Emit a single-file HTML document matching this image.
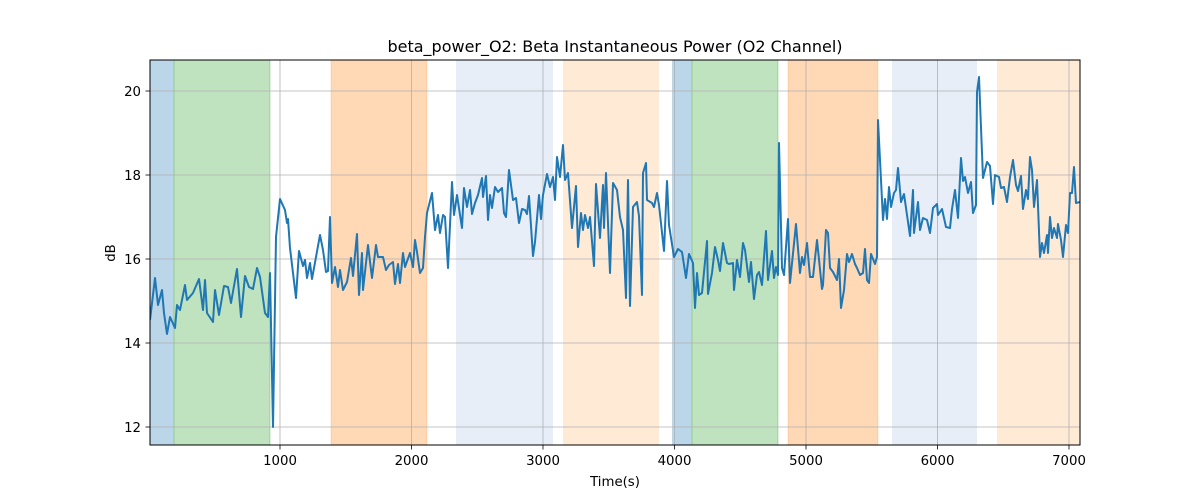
<!DOCTYPE html>
<html><head><meta charset="utf-8"><style>
html,body{margin:0;padding:0;background:#fff;}
svg{display:block;font-family:"DejaVu Sans","Liberation Sans",sans-serif;}
</style></head><body>
<svg width="1200" height="500" viewBox="0 0 1200 500" xmlns="http://www.w3.org/2000/svg">
<rect width="1200" height="500" fill="#fff"/>
<defs><clipPath id="c"><rect x="150" y="60" width="930" height="385"/></clipPath></defs>
<g clip-path="url(#c)">
<rect x="150" y="60" width="24" height="385" fill="#1f77b4" fill-opacity="0.3"/>
<rect x="174" y="60" width="96" height="385" fill="#2ca02c" fill-opacity="0.3" stroke="#2ca02c" stroke-opacity="0.3"/>
<rect x="331" y="60" width="96" height="385" fill="#ff7f0e" fill-opacity="0.3" stroke="#ff7f0e" stroke-opacity="0.2"/>
<rect x="456" y="60" width="97" height="385" fill="#aec7e8" fill-opacity="0.3"/>
<rect x="563" y="60" width="96" height="385" fill="#ffbb78" fill-opacity="0.3"/>
<rect x="672" y="60" width="20" height="385" fill="#1f77b4" fill-opacity="0.3"/>
<rect x="692" y="60" width="86" height="385" fill="#2ca02c" fill-opacity="0.3" stroke="#2ca02c" stroke-opacity="0.3"/>
<rect x="788" y="60" width="90" height="385" fill="#ff7f0e" fill-opacity="0.3" stroke="#ff7f0e" stroke-opacity="0.2"/>
<rect x="892" y="60" width="85" height="385" fill="#aec7e8" fill-opacity="0.3"/>
<rect x="997" y="60" width="85" height="385" fill="#ffbb78" fill-opacity="0.3"/>
<g stroke="#b0b0b0" stroke-width="0.8">
<line x1="280" y1="60" x2="280" y2="445"/><line x1="411.5" y1="60" x2="411.5" y2="445"/><line x1="543" y1="60" x2="543" y2="445"/><line x1="674.5" y1="60" x2="674.5" y2="445"/><line x1="806" y1="60" x2="806" y2="445"/><line x1="937.5" y1="60" x2="937.5" y2="445"/><line x1="1069" y1="60" x2="1069" y2="445"/>
<line x1="150" y1="427" x2="1080" y2="427"/><line x1="150" y1="343" x2="1080" y2="343"/><line x1="150" y1="259" x2="1080" y2="259"/><line x1="150" y1="175" x2="1080" y2="175"/><line x1="150" y1="91" x2="1080" y2="91"/>
</g>
<polyline fill="none" stroke="#1f77b4" stroke-width="2" stroke-linejoin="round" points="
150,320 155,278 158,305 162,290 164,313 167,334 170,317 175,328 177,305 180,310 185,285 187,300 193,293 199,279 203,310 205,280 207,313 213,322 215,290 219,315 224,286 228,287 231,303 237,269 241,317 245,276 249,287 253,289 257,268 260,277 265,313 268,317 270,273 273,427 276,237 280,199 285,210 287,223 288,219 290,248 296,298 299,251 303,266 305,260 307,278 310,263 312,279 320,235 323,250 326,272 328,271 330,217 332,283 335,267 338,287 340,270 343,290 347,282 351,258 353,276 357,234 359,295 362,253 363,290 368,245 372,278 376,245 378,257 383,257 386,270 389,265 393,262 395,284 398,264 400,283 403,253 405,267 410,253 413,267 415,240 417,252 420,273 423,268 425,237 427,213 432,193 435,230 438,215 440,233 443,215 445,217 448,268 452,182 454,215 457,195 462,228 464,188 467,207 470,190 472,214 475,203 478,195 482,178 483,197 486,176 488,220 490,195 492,208 495,187 498,192 502,188 504,213 506,217 509,170 513,200 516,198 519,223 522,209 525,210 527,214 529,196 533,256 535,242 539,195 541,219 543,195 547,174 550,187 553,177 555,200 557,157 560,177 563,145 565,180 568,173 572,228 576,186 578,247 581,213 583,230 585,215 588,228 590,217 594,266 596,184 600,238 603,185 604,228 606,173 610,273 613,183 617,190 620,217 623,230 626,298 628,180 630,306 633,207 637,202 639,216 642,295 643,173 646,163 647,200 652,203 654,207 657,193 659,205 664,251 667,181 669,225 674,257 678,249 682,252 686,278 689,254 693,263 695,308 697,273 699,295 702,293 707,241 708,294 712,273 715,247 718,260 720,271 723,243 727,263 729,264 733,263 734,290 737,260 740,277 743,243 745,250 749,282 751,262 754,299 757,275 759,272 762,285 766,231 768,280 772,251 774,278 776,267 778,275 779,143 782,268 784,275 788,219 790,283 796,224 800,273 802,257 804,265 807,243 810,277 813,277 817,240 822,289 823,285 826,230 828,233 830,268 833,272 837,280 839,259 841,308 844,290 847,254 849,262 852,254 855,264 857,268 860,275 863,273 865,249 867,280 869,283 871,254 875,264 877,257 878,120 883,220 885,199 887,219 889,187 891,207 894,193 896,190 898,168 901,202 904,194 910,236 913,190 914,233 918,202 920,230 923,218 927,220 930,233 933,208 937,204 938,215 942,209 946,227 950,228 952,209 955,190 958,218 961,158 963,181 965,177 968,193 971,182 973,213 976,205 977,92 979,77 983,178 987,162 990,166 993,204 995,175 999,177 1001,188 1004,187 1007,202 1010,177 1013,160 1016,185 1018,191 1021,176 1023,209 1026,190 1028,199 1030,157 1032,170 1034,207 1037,180 1040,257 1042,243 1044,253 1047,235 1048,253 1050,217 1052,238 1054,228 1057,238 1058,224 1061,240 1063,257 1066,225 1068,233 1070,193 1072,193 1074,167 1076,203 1080,202"/>
</g>
<rect x="150" y="60" width="930" height="385" fill="none" stroke="#000" stroke-width="1"/>
<g stroke="#000" stroke-width="0.8">
<line x1="280" y1="445" x2="280" y2="449.5"/><line x1="411.5" y1="445" x2="411.5" y2="449.5"/><line x1="543" y1="445" x2="543" y2="449.5"/><line x1="674.5" y1="445" x2="674.5" y2="449.5"/><line x1="806" y1="445" x2="806" y2="449.5"/><line x1="937.5" y1="445" x2="937.5" y2="449.5"/><line x1="1069" y1="445" x2="1069" y2="449.5"/>
<line x1="145.5" y1="427" x2="150" y2="427"/><line x1="145.5" y1="343" x2="150" y2="343"/><line x1="145.5" y1="259" x2="150" y2="259"/><line x1="145.5" y1="175" x2="150" y2="175"/><line x1="145.5" y1="91" x2="150" y2="91"/>
</g>
<g font-size="13.3" fill="#000" text-anchor="middle">
<text x="280" y="465">1000</text><text x="411.5" y="465">2000</text><text x="543" y="465">3000</text><text x="674.5" y="465">4000</text><text x="806" y="465">5000</text><text x="937.5" y="465">6000</text><text x="1069" y="465">7000</text>
<text x="615" y="486">Time(s)</text>
</g>
<g font-size="13.3" fill="#000" text-anchor="end">
<text x="141" y="432">12</text><text x="141" y="348">14</text><text x="141" y="264">16</text><text x="141" y="180">18</text><text x="141" y="96">20</text>
</g>
<text x="115" y="253" font-size="13.3" text-anchor="middle" transform="rotate(-90 115 253)">dB</text>
<text x="615" y="52" font-size="16" text-anchor="middle">beta_power_O2: Beta Instantaneous Power (O2 Channel)</text>
</svg>
</body></html>
